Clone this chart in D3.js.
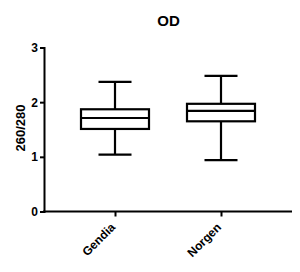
<!DOCTYPE html>
<html>
<head>
<meta charset="utf-8" />
<title>OD</title>
<script src="https://cdn.jsdelivr.net/npm/d3@7"></script>
<style>
    body { margin: 0; background: #fff; }
    text { font-family: Arial, "Liberation Sans", sans-serif; font-weight: bold; fill: #000; }
</style>
</head>
<body>
<script>
    var groups = ["Gendia", "Norgen"]
    var whiskerLow = [1.04, 0.94]
    var q1 = [1.51, 1.65]
    var median = [1.71, 1.84]
    var q3 = [1.87, 1.97]
    var whiskerHigh = [2.37, 2.48]
    var yTicks = [0, 1, 2, 3]

    var W = 300, H = 272
    var svg = d3.select("body").append("svg").attr("width", W).attr("height", H)

    var x = d3.scalePoint().domain(groups).range([115, 221])
    var y = d3.scaleLinear().domain([0, 3]).range([211.5, 47.5])
    var boxW = 68, capW = 33

    // axes
    var yAxis = svg.append("g").attr("transform", "translate(44,0)")
        .call(d3.axisLeft(y).tickValues(yTicks).tickSize(4).tickPadding(2).tickFormat(d3.format("d")))
    var xAxis = svg.append("g").attr("transform", "translate(0,211.5)")
        .call(d3.axisBottom(x).tickSize(5).tickFormat(""))
    xAxis.select(".domain").attr("d", "M43,0H292")
    svg.selectAll(".domain, .tick line").attr("stroke", "#000").attr("stroke-width", 2)
    yAxis.selectAll("text").style("font-size", "12px")

    // rotated category labels
    svg.selectAll(".xlab").data(groups).enter().append("text")
        .attr("class", "xlab")
        .attr("transform", d => "translate(" + (x(d) + 1) + ",228) rotate(-45)")
        .attr("text-anchor", "end")
        .style("font-size", "12px")
        .text(d => d)

    // boxes
    var g = svg.selectAll(".box").data(groups).enter().append("g").attr("class", "box")
        .attr("stroke", "#000").attr("stroke-width", 2.2).attr("fill", "none")
    g.append("line").attr("x1", d => x(d)).attr("x2", d => x(d))
        .attr("y1", (d, i) => y(whiskerHigh[i])).attr("y2", (d, i) => y(q3[i]))
    g.append("line").attr("x1", d => x(d)).attr("x2", d => x(d))
        .attr("y1", (d, i) => y(q1[i])).attr("y2", (d, i) => y(whiskerLow[i]))
    g.append("line").attr("x1", d => x(d) - capW / 2).attr("x2", d => x(d) + capW / 2)
        .attr("y1", (d, i) => y(whiskerHigh[i])).attr("y2", (d, i) => y(whiskerHigh[i]))
    g.append("line").attr("x1", d => x(d) - capW / 2).attr("x2", d => x(d) + capW / 2)
        .attr("y1", (d, i) => y(whiskerLow[i])).attr("y2", (d, i) => y(whiskerLow[i]))
    g.append("rect").attr("x", d => x(d) - boxW / 2).attr("width", boxW)
        .attr("y", (d, i) => y(q3[i])).attr("height", (d, i) => y(q1[i]) - y(q3[i]))
        .attr("fill", "#fff")
    g.append("line").attr("x1", d => x(d) - boxW / 2).attr("x2", d => x(d) + boxW / 2)
        .attr("y1", (d, i) => y(median[i])).attr("y2", (d, i) => y(median[i]))

    // title and y label
    svg.append("text").attr("x", 168.5).attr("y", 25.5).attr("text-anchor", "middle")
        .style("font-size", "15px").text("OD")
    svg.append("text").attr("transform", "translate(25,128) rotate(-90)")
        .attr("text-anchor", "middle").style("font-size", "13px").text("260/280")
</script>
</body>
</html>
